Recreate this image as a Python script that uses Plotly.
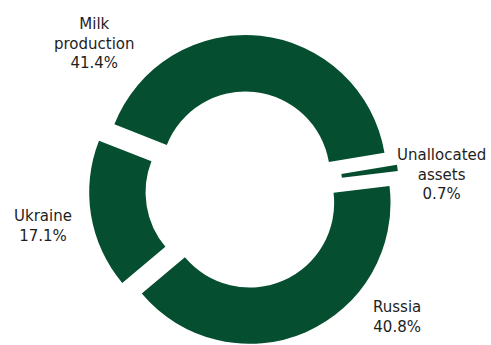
import plotly.graph_objects as go

# Data
labels = ["Milk production", "Unallocated assets", "Russia", "Ukraine"]
values = [41.4, 0.7, 40.8, 17.1]

# Label placement (paper coordinates) for the outside labels
label_x = [94 / 491, 441 / 491, 397 / 491, 43 / 491]
label_y = [1 - 43 / 345, 1 - 174 / 345, 1 - 317 / 345, 1 - 226 / 345]

color = "#054e2f"
W, H = 491, 345

fig = go.Figure(
    go.Pie(
        labels=labels,
        values=values,
        sort=False,
        direction="clockwise",
        rotation=-68.5,
        hole=0.6,
        pull=[0.1] * len(values),
        marker=dict(colors=[color] * len(values), line=dict(width=0)),
        textinfo="none",
        hoverinfo="label+percent",
        domain=dict(x=[(244 - 155) / W, (244 + 155) / W], y=[0, 310 / H]),
        showlegend=False,
    )
)

annotations = []
for lab, val, x, y in zip(labels, values, label_x, label_y):
    annotations.append(
        dict(
            text=lab.replace(" ", "<br>") + "<br>" + f"{val:.1f}%",
            x=x, y=y, xref="paper", yref="paper",
            xanchor="center", yanchor="middle",
            showarrow=False, align="center",
            font=dict(family="DejaVu Sans", size=15, color="#1e1e1e"),
        )
    )

fig.update_layout(
    width=W, height=H,
    margin=dict(l=0, r=0, t=0, b=0),
    paper_bgcolor="white", plot_bgcolor="white",
    annotations=annotations,
)

fig.write_html("out.html")
